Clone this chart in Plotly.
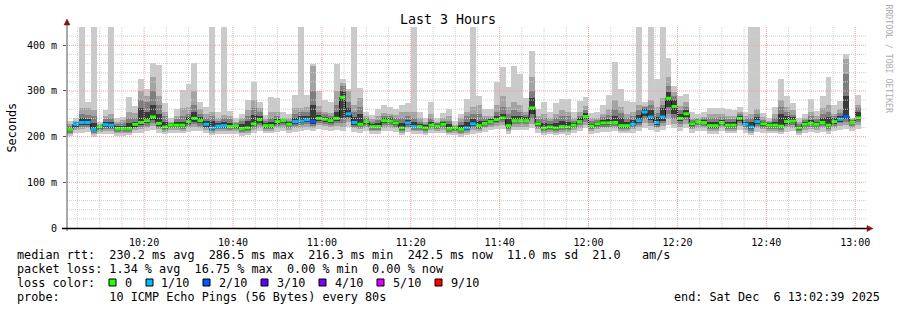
import plotly.graph_objects as go
import pandas as pd

# ---------------- data ----------------
start_time = "2025-12-06 10:02:39"
end_time = "2025-12-06 13:02:39"
step_seconds = 80

median_ms = [216, 227, 231, 231, 216, 221, 226, 225, 218, 218, 218, 227, 231, 235, 243, 229, 221, 225, 225, 225,
             233, 240, 235, 227, 219, 223, 224, 222, 224, 218, 219, 228, 237, 224,
             224, 233, 235, 227, 233, 234, 237, 233, 240, 238, 235, 240, 286, 250, 231, 227, 233, 222, 222, 235,
             234, 230, 219, 230, 222, 222, 219, 225, 223, 227, 218, 219, 216, 219,
             228, 224, 229, 233, 237, 241, 224, 235, 235, 235, 263, 228, 219, 221, 219, 222, 221, 225, 233, 244,
             223, 228, 230, 230, 231, 224, 224, 227, 235, 254, 243, 231, 243, 284,
             266, 240, 250, 228, 233, 231, 224, 224, 231, 225, 225, 240, 227, 221, 233, 228, 225, 225, 223, 233,
             234, 219, 227, 229, 227, 231, 225, 233, 238, 244, 231, 241]

loss_count = [0, 1, 1, 1, 1, 0, 1, 1, 0, 0, 0, 0, 0, 0, 0, 0, 0, 0, 0, 0, 0, 0, 0, 1, 1, 1, 1, 0, 0, 0, 0, 0, 0, 0,
              0, 0, 0, 0, 1, 1, 1, 2, 0, 0, 0, 0, 0, 1, 1, 0, 0, 0, 0, 0, 0, 0, 0, 1, 1, 0, 0, 0, 0, 0, 0, 0, 0, 1,
              1, 0, 0, 0, 0, 0, 0, 0, 0, 0, 0, 0, 0, 0, 0, 0, 0, 0, 0, 0, 0, 0, 0, 0, 0, 0, 0, 1, 1, 1, 1, 1, 1, 0,
              0, 0, 0, 0, 0, 0, 0, 0, 0, 0, 0, 0, 1, 1, 1, 0, 0, 0, 0, 0, 0, 0, 0, 0, 0, 0, 0, 0, 1, 2, 0, 0]

ping_max = [235, 240, 460, 275, 460, 233, 258, 460, 241, 243, 287, 267, 327, 305, 362, 356, 273, 240, 260, 302,
            316, 362, 275, 265, 460, 254, 460, 256, 241, 249, 280, 320, 276, 247,
            287, 285, 253, 249, 292, 460, 292, 359, 300, 280, 276, 358, 326, 305, 460, 307, 254, 247, 260, 270,
            265, 260, 270, 273, 460, 253, 240, 276, 240, 251, 260, 234, 250, 282,
            460, 289, 260, 260, 320, 353, 309, 355, 338, 285, 387, 260, 276, 254, 273, 283, 282, 254, 278, 287,
            251, 253, 270, 292, 364, 305, 279, 276, 460, 276, 460, 327, 460, 372,
            311, 289, 294, 253, 249, 254, 263, 263, 262, 260, 258, 265, 254, 460, 460, 251, 240, 265, 327, 289,
            273, 240, 249, 282, 256, 289, 331, 270, 279, 381, 241, 291]

ping_9 = [228, 234, 262, 262, 258, 227, 245, 250, 232, 236, 255, 252, 300, 290, 330, 290, 255, 232, 245, 262,
          265, 300, 260, 250, 255, 240, 248, 245, 232, 240, 258, 280, 262, 238,
          255, 255, 240, 240, 262, 262, 265, 355, 268, 255, 252, 300, 318, 300, 270, 285, 245, 238, 245, 252,
          250, 248, 255, 255, 255, 240, 232, 250, 232, 240, 245, 226, 240, 255,
          265, 270, 245, 245, 270, 290, 265, 275, 270, 255, 330, 245, 250, 240, 250, 258, 255, 240, 255, 268,
          240, 240, 250, 260, 280, 265, 250, 255, 270, 268, 280, 265, 285, 330,
          298, 268, 275, 240, 240, 244, 250, 250, 250, 245, 245, 255, 245, 250, 260, 242, 235, 250, 280, 265,
          258, 232, 240, 255, 245, 262, 270, 250, 260, 370, 238, 270]

ping_8 = [224, 231, 250, 248, 245, 225, 238, 240, 228, 230, 240, 240, 280, 275, 300, 270, 245, 230, 238, 245,
          250, 270, 250, 240, 245, 235, 240, 238, 230, 235, 245, 262, 255, 234,
          240, 245, 238, 235, 250, 255, 255, 300, 255, 250, 245, 270, 310, 275, 255, 265, 240, 232, 236, 245,
          245, 240, 240, 245, 240, 232, 228, 240, 230, 235, 235, 224, 232, 245,
          250, 250, 240, 240, 255, 265, 250, 258, 255, 248, 300, 238, 240, 234, 240, 245, 245, 235, 245, 258,
          234, 236, 242, 248, 260, 252, 240, 245, 258, 264, 270, 252, 270, 310,
          290, 258, 265, 236, 238, 240, 240, 240, 242, 238, 238, 250, 238, 240, 250, 236, 232, 240, 265, 255,
          248, 228, 236, 245, 238, 250, 255, 245, 252, 338, 236, 262]

ping_7 = [220, 229, 240, 238, 230, 223, 232, 232, 224, 224, 230, 233, 262, 255, 270, 250, 232, 228, 232, 232,
          242, 255, 244, 234, 234, 229, 232, 230, 228, 228, 234, 248, 246, 230,
          232, 239, 237, 231, 240, 245, 245, 270, 248, 243, 240, 255, 300, 262, 242, 250, 237, 228, 230, 240,
          240, 235, 230, 237, 232, 228, 225, 232, 227, 231, 228, 221, 226, 232,
          238, 235, 234, 238, 245, 250, 238, 246, 245, 242, 285, 233, 230, 228, 230, 234, 232, 230, 240, 252,
          228, 232, 236, 238, 245, 240, 232, 236, 248, 260, 258, 242, 262, 298,
          280, 250, 258, 232, 236, 236, 232, 232, 236, 231, 231, 246, 233, 232, 242, 232, 229, 232, 250, 245,
          242, 224, 232, 237, 233, 240, 242, 240, 246, 290, 234, 255]

ping_4 = [212, 222, 226, 226, 212, 217, 221, 220, 214, 214, 214, 222, 226, 229, 236, 224, 217, 221, 221, 221,
          228, 233, 229, 222, 215, 219, 220, 218, 220, 214, 215, 223, 230, 220,
          220, 228, 230, 223, 228, 229, 232, 228, 235, 233, 230, 235, 240, 244, 226, 223, 228, 218, 218, 230,
          229, 226, 215, 226, 218, 218, 215, 221, 219, 223, 214, 215, 212, 215,
          223, 220, 225, 229, 233, 236, 220, 231, 231, 231, 250, 224, 215, 217, 215, 218, 217, 221, 229, 238,
          219, 224, 226, 226, 227, 220, 220, 223, 230, 245, 236, 226, 235, 265,
          250, 234, 244, 224, 229, 227, 220, 220, 227, 221, 221, 235, 223, 217, 228, 224, 221, 221, 219, 228,
          229, 215, 223, 225, 223, 227, 221, 228, 233, 238, 227, 236]

ping_3 = [209, 218, 222, 222, 209, 214, 217, 216, 211, 211, 211, 218, 221, 224, 230, 220, 214, 218, 218, 217,
          223, 227, 224, 218, 212, 216, 217, 215, 217, 211, 212, 219, 225, 217,
          217, 224, 225, 219, 224, 225, 227, 224, 230, 228, 226, 230, 230, 238, 222, 220, 224, 215, 215, 225,
          225, 222, 212, 222, 215, 215, 212, 218, 216, 219, 211, 212, 209, 212,
          219, 217, 222, 225, 229, 231, 216, 227, 227, 227, 238, 220, 212, 214, 212, 215, 214, 218, 225, 232,
          216, 220, 222, 222, 223, 217, 217, 220, 226, 238, 230, 222, 229, 250,
          238, 228, 236, 220, 225, 223, 216, 216, 223, 217, 217, 230, 219, 213, 224, 220, 217, 217, 215, 224,
          225, 212, 219, 221, 219, 223, 217, 224, 229, 232, 223, 231]

ping_2 = [206, 214, 217, 218, 206, 211, 213, 212, 208, 208, 208, 214, 216, 219, 224, 216, 211, 214, 214, 213,
          218, 221, 219, 214, 209, 213, 213, 212, 213, 208, 209, 215, 220, 213,
          213, 219, 220, 215, 219, 220, 222, 219, 225, 223, 221, 224, 222, 232, 218, 216, 219, 212, 212, 220,
          220, 218, 209, 218, 212, 212, 209, 214, 213, 215, 208, 209, 206, 209,
          214, 213, 218, 221, 224, 225, 212, 222, 222, 222, 228, 216, 209, 211, 209, 211, 210, 214, 220, 226,
          212, 216, 218, 218, 219, 213, 213, 216, 221, 230, 224, 218, 223, 238,
          228, 222, 228, 216, 220, 219, 212, 212, 219, 213, 213, 224, 215, 209, 219, 216, 213, 213, 211, 219,
          220, 209, 215, 217, 215, 218, 213, 219, 224, 226, 219, 225]

ping_min = [201, 207, 208, 210, 200, 205, 206, 205, 202, 202, 203, 207, 209, 212, 215, 209, 205, 208, 208, 207,
            210, 213, 212, 207, 203, 206, 206, 206, 206, 202, 203, 208, 212, 207,
            207, 211, 212, 208, 210, 212, 214, 212, 216, 214, 213, 215, 212, 222, 210, 209, 212, 206, 206, 212,
            212, 211, 204, 211, 206, 206, 203, 208, 207, 208, 203, 203, 200, 203,
            206, 207, 211, 214, 216, 217, 206, 214, 214, 214, 218, 209, 203, 205, 203, 205, 204, 208, 213, 218,
            206, 209, 211, 211, 212, 207, 207, 209, 213, 220, 215, 210, 214, 225,
            218, 213, 218, 209, 213, 212, 206, 206, 212, 207, 207, 215, 208, 203, 211, 209, 207, 207, 205, 211,
            212, 203, 208, 210, 208, 211, 206, 212, 215, 216, 212, 217]

y_tick_values = [0, 100, 200, 300, 400]
y_tick_labels = ["0", "100 m", "200 m", "300 m", "400 m"]

loss_levels = ["0", "1/10", "2/10", "3/10", "4/10", "5/10", "9/10"]
loss_level_counts = [0, 1, 2, 3, 4, 5, 9]
loss_colors = ["#26ff00", "#00b8ff", "#0059ff", "#5e00ff", "#7e00ff", "#dd00ff", "#ff0000"]

stats_lines = [
    "median rtt:  230.2 ms avg  286.5 ms max  216.3 ms min  242.5 ms now  11.0 ms sd  21.0   am/s",
    "packet loss: 1.34 % avg  16.75 % max  0.00 % min  0.00 % now",
    "loss color:",
    "probe:       10 ICMP Echo Pings (56 Bytes) every 80s",
]
end_label = "end: Sat Dec  6 13:02:39 2025"

n = len(median_ms)
for arr in (loss_count, ping_max, ping_9, ping_8, ping_7, ping_4, ping_3, ping_2, ping_min):
    assert len(arr) == n, len(arr)

# ---------------- figure ----------------
W, H = 897, 310
L, R, T, B = 67, 30, 27, 82
PW, PH = W - L - R, H - T - B
MONO = "DejaVu Sans Mono"


def px(xp):
    return (xp - L) / PW


def py(yp):
    return (H - B - yp) / PH


times = pd.date_range(start_time, periods=n, freq=f"{step_seconds}s")
step = pd.Timedelta(seconds=step_seconds)
step_ms = step_seconds * 1000

fig = go.Figure()

bands = [
    (ping_min, ping_max, "#cacaca"),
    (ping_2, ping_9, "#a4a4a4"),
    (ping_3, ping_8, "#7e7e7e"),
    (ping_4, ping_7, "#3a3a3a"),
]
for lo, hi, col in bands:
    fig.add_trace(go.Bar(
        x=times, y=[h - l for h, l in zip(hi, lo)], base=lo,
        width=step_ms, offset=0,
        marker=dict(color=col, line=dict(width=0)),
        hoverinfo="skip", showlegend=False,
    ))

# dark step connector for the median
fig.add_trace(go.Scatter(
    x=list(times) + [times[-1] + step], y=median_ms + [median_ms[-1]],
    mode="lines", line=dict(color="#101010", width=1, shape="hv"),
    hoverinfo="skip", showlegend=False,
))

# median segments coloured by loss
for cnt, col in zip(loss_level_counts, loss_colors):
    xs, ys = [], []
    for t, m, l in zip(times, median_ms, loss_count):
        if l == cnt:
            xs += [t, t + step, None]
            ys += [m, m, None]
    if xs:
        fig.add_trace(go.Scatter(x=xs, y=ys, mode="lines",
                                 line=dict(color=col, width=3),
                                 hoverinfo="skip", showlegend=False))

shapes = []
# grid (drawn above the smoke, like rrdtool)
t0 = pd.Timestamp(start_time)
t1 = pd.Timestamp(end_time)
g = pd.Timestamp("2025-12-06 10:05:00")
while g < t1:
    major = (g.minute % 20 == 0)
    shapes.append(dict(type="line", xref="x", yref="paper", x0=g, x1=g, y0=0, y1=1, layer="above",
                       line=dict(color="#f4a0a0" if major else "#cfcfcf", width=1, dash="1px,1px")))
    g += pd.Timedelta(minutes=5)
for v in range(20, 440, 20):
    major = (v % 100 == 0)
    shapes.append(dict(type="line", xref="paper", yref="y", x0=0, x1=1, y0=v, y1=v, layer="above",
                       line=dict(color="#f4a0a0" if major else "#cfcfcf", width=1, dash="1px,1px")))

# axes with arrows
shapes.append(dict(type="line", xref="paper", yref="paper", x0=px(67), x1=px(67), y0=py(231), y1=py(22),
                   layer="above", line=dict(color="#555555", width=1)))
shapes.append(dict(type="line", xref="paper", yref="paper", x0=px(62), x1=px(868), y0=py(228.5), y1=py(228.5),
                   layer="above", line=dict(color="#000000", width=1.5)))
shapes.append(dict(type="path", xref="paper", yref="paper", layer="above",
                   path=f"M {px(64)} {py(25)} L {px(70)} {py(25)} L {px(67)} {py(19)} Z",
                   fillcolor="#8b1010", line=dict(color="#8b1010", width=0.5)))
shapes.append(dict(type="path", xref="paper", yref="paper", layer="above",
                   path=f"M {px(867)} {py(225.5)} L {px(867)} {py(231.5)} L {px(873)} {py(228.5)} Z",
                   fillcolor="#8b1010", line=dict(color="#8b1010", width=0.5)))

annotations = []


def text(s, x, y, size=11.8, anchor="left", color="#000000", angle=0):
    annotations.append(dict(text=s.replace(" ", "\u00a0"), x=px(x), y=py(y), xref="paper", yref="paper",
                            xanchor=anchor, yanchor="middle", showarrow=False, borderpad=0,
                            textangle=angle, font=dict(family=MONO, size=size, color=color)))


text("Last 3 Hours", 448, 19.5, size=13.3, anchor="center")
text("Seconds", 11, 127.5, angle=-90, anchor="center")
text("RRDTOOL / TOBI OETIKER", 888.5, 59, size=8.2, anchor="center", color="#ababab", angle=90)

line_y = [254.5, 268.5, 282.7, 296.8]
for s, yv in zip(stats_lines, line_y):
    text(s, 16, yv)
text(end_label, 881, line_y[3], anchor="right")

square_x = [109, 146, 203, 261, 319, 377, 435]
label_x = [124, 160, 218, 276, 334, 392, 450]
for lab, col, sx, lx in zip(loss_levels, loss_colors, square_x, label_x):
    shapes.append(dict(type="rect", xref="paper", yref="paper", x0=px(sx), x1=px(sx + 7),
                       y0=py(279), y1=py(286), fillcolor=col, line=dict(color="#000000", width=1)))
    text(lab, lx, line_y[2])

fig.update_layout(
    width=W, height=H,
    margin=dict(l=L, r=R, t=T, b=B, pad=0),
    paper_bgcolor="#ffffff", plot_bgcolor="#ffffff",
    barmode="overlay", bargap=0,
    showlegend=False,
    shapes=shapes, annotations=annotations,
    xaxis=dict(type="date", range=[t0, t1], tickformat="%H:%M",
               tick0="2025-12-06 10:00:00", dtick=20 * 60 * 1000,
               showgrid=False, zeroline=False, showline=False,
               ticks="outside", ticklen=2, tickcolor="#ffffff", ticklabelstandoff=3,
               tickfont=dict(family=MONO, size=10, color="#000000")),
    yaxis=dict(range=[0, 440], tickvals=y_tick_values, ticktext=y_tick_labels,
               showgrid=False, zeroline=False, showline=False,
               ticks="outside", ticklen=3, tickcolor="#555555", ticklabelstandoff=4,
               tickfont=dict(family=MONO, size=10, color="#000000")),
)

fig.write_html("out.html", config={"displayModeBar": False})
